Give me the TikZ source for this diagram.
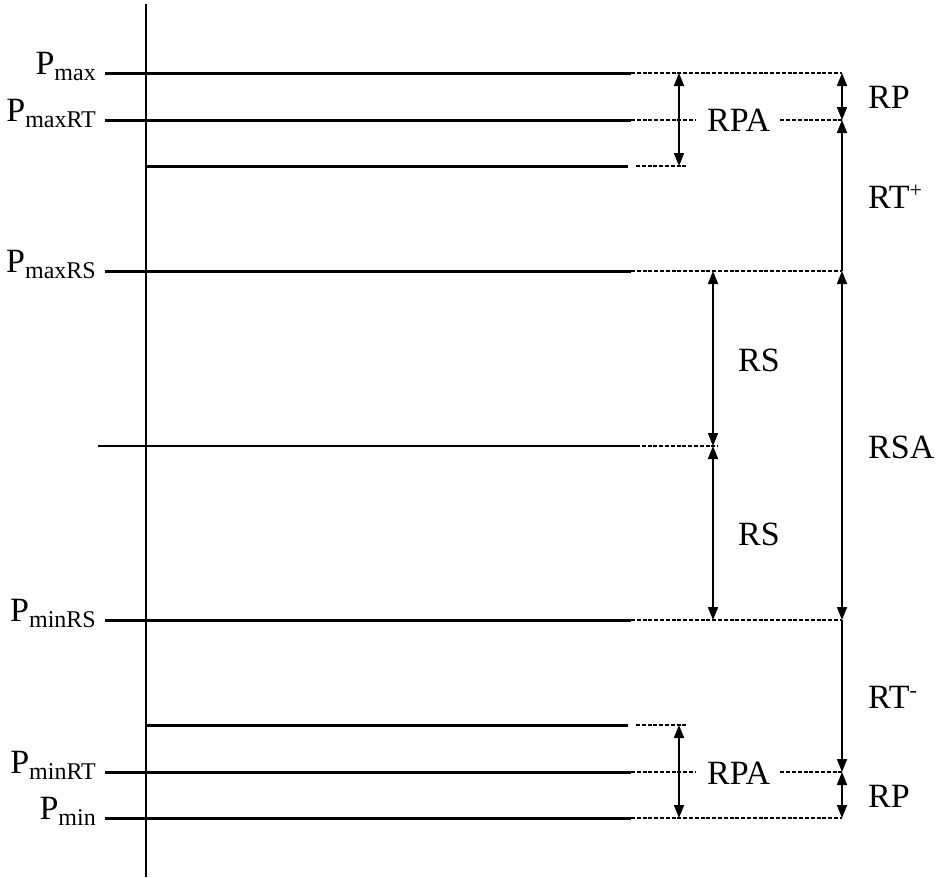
\documentclass[tikz,border=0pt]{standalone}
\usepackage{fontspec}
\setmainfont{Liberation Serif}
\usetikzlibrary{arrows.meta}

\newcommand{\lowsub}[1]{\raisebox{-6pt}{\fontsize{24}{26}\selectfont #1}}
\newcommand{\highsup}[1]{\raisebox{11pt}{\fontsize{22}{24}\selectfont #1}}

\tikzset{
  level/.style={line width=3pt},
  thinlevel/.style={line width=1.4pt},
  guide/.style={line width=1.2pt, dash pattern=on 4pt off 1.8pt},
  span/.style={line width=1.8pt, {Triangle[length=13pt,width=10pt]}-{Triangle[length=13pt,width=10pt]}},
  reach/.style={line width=1.8pt, -{Triangle[length=13pt,width=10pt]}},
  lbl/.style={anchor=base west, inner sep=0pt, font=\fontsize{34}{40}\selectfont},
  plbl/.style={anchor=base east, inner sep=0pt, font=\fontsize{34}{40}\selectfont}
}

\begin{document}
\begin{tikzpicture}[x=1pt,y=-1pt]
\useasboundingbox (0,0) rectangle (937,878);

% columns of the arrows
\coordinate (colA) at (679,0);
\coordinate (colS) at (713,0);

% levels: start of solid line, end of solid line, end of dashed line
\coordinate (Smax) at (105,73);    \coordinate (Lmax) at (631,73);    \coordinate (Rmax) at (842,73);
\coordinate (SmaxRT) at (105,120); \coordinate (LmaxRT) at (631,120); \coordinate (RmaxRT) at (842,120);
\coordinate (Sa) at (146,166);     \coordinate (La) at (628,166);
\coordinate (SmaxRS) at (105,271); \coordinate (LmaxRS) at (631,271); \coordinate (RmaxRS) at (842,271);
\coordinate (Smid) at (98,446);    \coordinate (Lmid) at (636,446);   \coordinate (Rmid) at (718,446);
\coordinate (SminRS) at (105,620); \coordinate (LminRS) at (631,620); \coordinate (RminRS) at (842,620);
\coordinate (Sb) at (146,725);     \coordinate (Lb) at (628,725);
\coordinate (SminRT) at (105,772); \coordinate (LminRT) at (631,772); \coordinate (RminRT) at (842,772);
\coordinate (Smin) at (105,818);   \coordinate (Lmin) at (631,818);   \coordinate (Rmin) at (842,818);

% axis
\coordinate (axtop) at (146,4);
\coordinate (axbot) at (146,877);
\draw[line width=1.8pt] (axtop) -- (axbot);

% solid levels
\draw[level] (Smax) -- (Lmax);
\draw[level] (SmaxRT) -- (LmaxRT);
\draw[level] (Sa) -- (La);
\draw[level] (SmaxRS) -- (LmaxRS);
\draw[thinlevel] (Smid) -- (Lmid);
\draw[level] (SminRS) -- (LminRS);
\draw[level] (Sb) -- (Lb);
\draw[level] (SminRT) -- (LminRT);
\draw[level] (Smin) -- (Lmin);

% Text Node
\node[plbl] (pmax) at (96,74) {P\lowsub{max}};
\node[plbl] (pmaxrt) at (96,121) {P\lowsub{maxRT}};
\node[plbl] (pmaxrs) at (96,272) {P\lowsub{maxRS}};
\node[plbl] (pminrs) at (96,621) {P\lowsub{minRS}};
\node[plbl] (pminrt) at (96,773) {P\lowsub{minRT}};
\node[plbl] (pmin) at (96,819) {P\lowsub{min}};

% Text Node
\node[lbl] (rpatop) at (707,131) {RPA};
\node[lbl] (rptop) at (868,108) {RP};
\node[lbl] (rtplus) at (868,208) {RT\highsup{+}};
\node[lbl] (rsup) at (738,371) {RS};
\node[lbl] (rsa) at (868,458) {RSA};
\node[lbl] (rslow) at (738,545) {RS};
\node[lbl] (rtminus) at (868,708) {RT\highsup{-}};
\node[lbl] (rpabot) at (707,784) {RPA};
\node[lbl] (rpbot) at (868,807) {RP};

% dashed guides
\draw[guide] (Lmax) -- (Rmax);
\draw[guide] (LmaxRT) -- ([xshift=-11pt]rpatop.west |- LmaxRT);
\draw[guide] ([xshift=10pt]rpatop.east |- LmaxRT) -- (RmaxRT);
\draw[guide] ([xshift=8pt]La) -- (colA |- La) -- ++(9,0);
\draw[guide] (LmaxRS) -- (RmaxRS);
\draw[guide] (Lmid) -- (Rmid);
\draw[guide] (LminRS) -- (RminRS);
\draw[guide] ([xshift=8pt]Lb) -- (colA |- Lb) -- ++(9,0);
\draw[guide] (LminRT) -- ([xshift=-11pt]rpabot.west |- LminRT);
\draw[guide] ([xshift=10pt]rpabot.east |- LminRT) -- (RminRT);
\draw[guide] (Lmin) -- (Rmin);

% arrows
\draw[span] (colA |- Lmax) -- (colA |- La);
\draw[span] (Rmax) -- (RmaxRT);
\draw[reach] (RmaxRS) -- (RmaxRT);
\draw[span] (colS |- LmaxRS) -- (colS |- Lmid);
\draw[span] (colS |- Lmid) -- (colS |- LminRS);
\draw[span] (RmaxRS) -- (RminRS);
\draw[reach] (RminRS) -- (RminRT);
\draw[span] (colA |- Lb) -- (colA |- Lmin);
\draw[span] (RminRT) -- (Rmin);

\end{tikzpicture}
\end{document}
